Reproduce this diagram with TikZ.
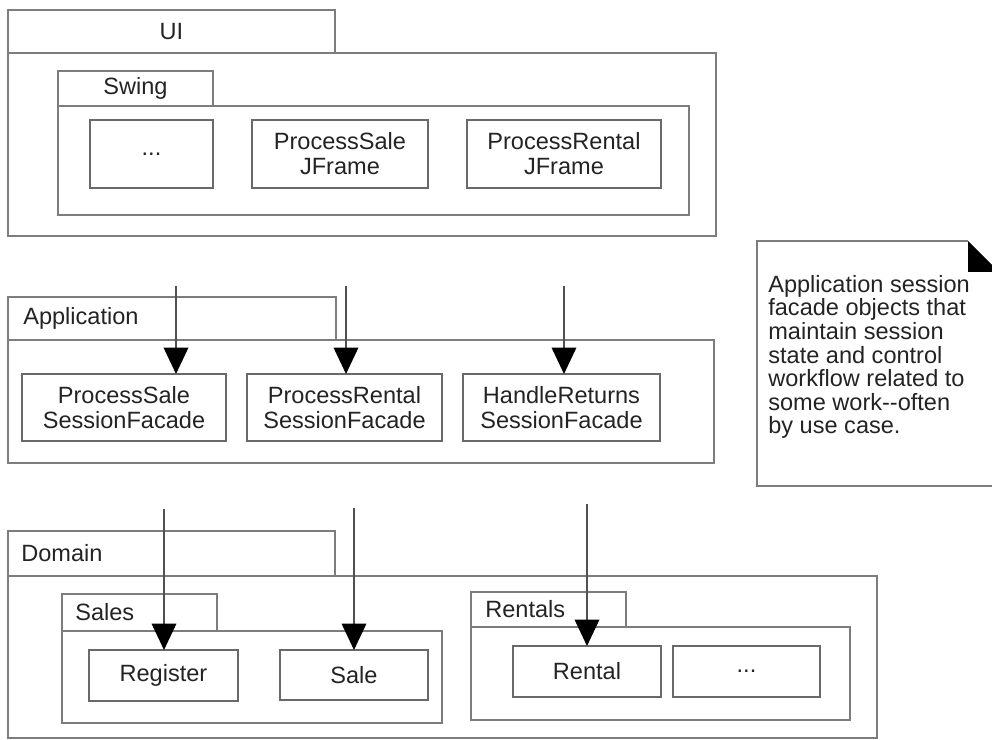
\documentclass[tikz,border=0pt]{standalone}
\usepackage{fontspec}
\setmainfont{Liberation Sans}
\usetikzlibrary{
	arrows.meta,
	positioning
}
\definecolor{LineGray}{RGB}{125,125,125}
\definecolor{BoxGray}{RGB}{105,105,105}
\definecolor{ArrowGray}{RGB}{80,80,80}
\definecolor{InkGray}{RGB}{35,35,35}

\tikzset{
	pkg/.style={draw=LineGray, line width=0.8pt, anchor=north west, inner sep=0pt, outer sep=0pt,
		text=InkGray, font=\fontsize{13.4}{14}\selectfont},
	pkgname/.style={anchor=west, inner sep=0pt, text=InkGray, font=\fontsize{13.4}{14}\selectfont},
	cls/.style={draw=BoxGray, line width=0.8pt, anchor=north west, inner sep=0pt, outer sep=0pt,
		align=center, text=InkGray, font=\fontsize{13.4}{14.2}\selectfont},
	dep/.style={draw=ArrowGray, line width=0.8pt, -{Triangle[length=15pt, width=14pt, black]}},
	notetext/.style={anchor=north west, inner sep=0pt, align=left, text=InkGray,
		font=\fontsize{13.4}{13.4}\selectfont}
}

\begin{document}
\begin{tikzpicture}[x=0.02cm, y=-0.02cm]
	\useasboundingbox (0,0) rectangle (992,740);
	% UI layer
	\node[pkg, minimum width=6.54cm, minimum height=0.86cm] (uiTab) at (8,10) {UI};
	\node[pkg, minimum width=14.16cm, minimum height=3.66cm] (uiBody) at (8,53) {};
	\node[pkg, minimum width=3.10cm, minimum height=0.70cm] (swingTab) at (58,71) {Swing};
	\node[pkg, minimum width=12.62cm, minimum height=2.18cm] (swingBody) at (58,106) {};
	\node[cls, minimum width=2.46cm, minimum height=1.36cm] (uiMore) at (90,120) {...};
	\node[cls, minimum width=3.52cm, minimum height=1.36cm] (psFrame) at (252,120) {ProcessSale\\JFrame};
	\node[cls, minimum width=3.88cm, minimum height=1.36cm] (prFrame) at (467,120) {ProcessRental\\JFrame};

	% application layer
	\node[pkg, minimum width=6.56cm, minimum height=0.86cm] (appTab) at (8,297) {};
	\node[pkgname] (appName) at ([xshift=0.30cm]appTab.west) {Application};
	\node[pkg, minimum width=14.12cm, minimum height=2.46cm] (appBody) at (8,340) {};
	\node[cls, minimum width=4.08cm, minimum height=1.34cm] (psFacade) at (22,374) {ProcessSale\\SessionFacade};
	\node[cls, minimum width=3.90cm, minimum height=1.34cm] (prFacade) at (247,374) {ProcessRental\\SessionFacade};
	\node[cls, minimum width=3.94cm, minimum height=1.34cm] (hrFacade) at (463,374) {HandleReturns\\SessionFacade};

	% domain layer
	\node[pkg, minimum width=6.54cm, minimum height=0.90cm] (domTab) at (8,531) {};
	\node[pkgname] (domName) at ([xshift=0.26cm]domTab.west) {Domain};
	\node[pkg, minimum width=17.38cm, minimum height=3.24cm] (domBody) at (8,576) {};
	\node[pkg, minimum width=3.10cm, minimum height=0.74cm] (salesTab) at (62,594) {};
	\node[pkgname] (salesName) at ([xshift=0.26cm]salesTab.west) {Sales};
	\node[pkg, minimum width=7.60cm, minimum height=1.84cm] (salesBody) at (62,631) {};
	\node[cls, minimum width=2.98cm, minimum height=1.02cm] (register) at (89,650) {Register};
	\node[cls, minimum width=2.96cm, minimum height=1.00cm] (sale) at (280,650) {Sale};
	\node[pkg, minimum width=3.10cm, minimum height=0.70cm] (rentTab) at (471,592) {};
	\node[pkgname] (rentName) at ([xshift=0.28cm]rentTab.west) {Rentals};
	\node[pkg, minimum width=7.58cm, minimum height=1.86cm] (rentBody) at (471,627) {};
	\node[cls, minimum width=2.96cm, minimum height=1.02cm] (rental) at (513,646) {Rental};
	\node[cls, minimum width=2.94cm, minimum height=1.02cm] (rentMore) at (673,646) {...};

	% dependencies
	\coordinate (fromPs) at (176,286);
	\coordinate (fromPr) at (346,286);
	\coordinate (fromHr) at (564,286);
	\coordinate (toRegister) at (164,509);
	\coordinate (toSale) at (354,508);
	\coordinate (toRental) at (587,504);
	\draw[dep] (fromPs) -- (fromPs |- psFacade.north);
	\draw[dep] (fromPr) -- (fromPr |- prFacade.north);
	\draw[dep] (fromHr) -- (fromHr |- hrFacade.north);
	\draw[dep] (toRegister) -- (toRegister |- register.north);
	\draw[dep] (toSale) -- (toSale |- sale.north);
	\draw[dep] (toRental) -- (toRental |- rental.north);

	% note
	\draw[LineGray, line width=0.8pt] (992,486) -- (757,486) -- (757,241) -- (968,241);
	\fill (968,241) -- (992,265) -- (992,272) -- (968,272) -- cycle;
	\node[notetext] (sessionNote) at (768,275) {Application session\\facade objects that\\maintain session\\state and control\\workflow related to\\some work-\kern0pt-often\\by use case.};
\end{tikzpicture}
\end{document}
